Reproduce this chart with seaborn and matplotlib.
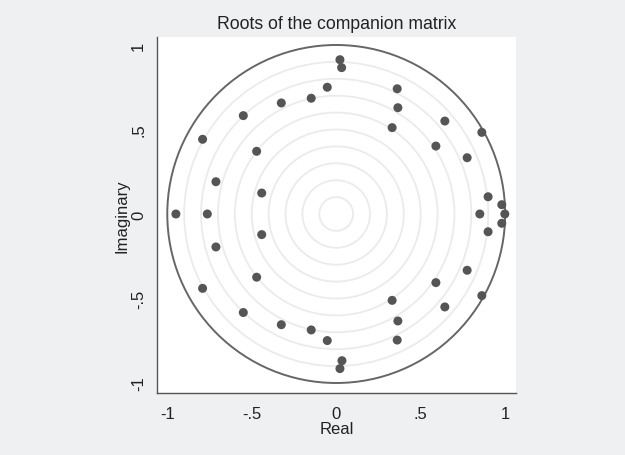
"""
Roots of the companion matrix (Stata style eigenvalue stability plot)
"""
import matplotlib
matplotlib.use("Agg")
import matplotlib.pyplot as plt
import pandas as pd
import seaborn as sns

# real and imaginary parts of the eigenvalues
real_part = [
    0.022, 0.032, -0.053, -0.148, -0.325, -0.550, -0.791, -0.471, -0.712,
    -0.441, 0.361, 0.365, 0.331, 0.643, 0.862, 0.590, 0.775, 0.899, 0.980,
    -0.949, -0.763, 0.998, 0.850,
    0.022, 0.034, -0.053, -0.148, -0.325, -0.550, -0.791, -0.471, -0.712,
    -0.441, 0.361, 0.365, 0.331, 0.643, 0.862, 0.590, 0.775, 0.899, 0.980,
]
imag_part = [
    0.913, 0.866, 0.750, 0.685, 0.657, 0.582, 0.442, 0.371, 0.191,
    0.124, 0.741, 0.629, 0.511, 0.550, 0.483, 0.402, 0.333, 0.102, 0.055,
    0.0, 0.0, 0.0, 0.0,
    -0.915, -0.868, -0.749, -0.686, -0.655, -0.583, -0.440, -0.374, -0.195,
    -0.122, -0.746, -0.633, -0.511, -0.550, -0.483, -0.406, -0.333, -0.105,
    -0.055,
]
ticks = [-1, -0.5, 0, 0.5, 1]
tick_labels = ["-1", "-.5", "0", ".5", "1"]
grid_radii = [0.1, 0.2, 0.3, 0.4, 0.5, 0.6, 0.7, 0.8, 0.9]

bg = "#eff0f2"
sns.set_style("white")
plt.rcParams["font.family"] = ["Liberation Sans", "DejaVu Sans"]

roots = pd.DataFrame({"Real": real_part, "Imaginary": imag_part})

fig = plt.figure(figsize=(6.25, 4.56), dpi=100, facecolor=bg)
ax = fig.add_axes([0.2517, 0.1353, 0.5733, 0.782])
ax.set_facecolor("white")

# light reference circles and the unit circle
for r in grid_radii:
    ax.add_patch(plt.Circle((0, 0), r, fill=False, ec="#ebebeb", lw=1.3))
ax.add_patch(plt.Circle((0, 0), 1, fill=False, ec="#666666", lw=1.4))

sns.scatterplot(
    data=roots, x="Real", y="Imaginary", ax=ax,
    color="#555555", s=42, edgecolor="none", zorder=3,
)

ax.set_xlim(-1.059, 1.062)
ax.set_ylim(-1.061, 1.049)
ax.set_xticks(ticks, tick_labels)
ax.set_yticks(ticks, tick_labels)
for lab in ax.get_yticklabels():
    lab.set_rotation(90)
    lab.set_va("center")
ax.tick_params(axis="both", direction="out", length=6, width=1,
               color="#555555", labelsize=12, labelcolor="#222222", pad=2)
ax.tick_params(axis="x", pad=3)

for side in ["top", "right"]:
    ax.spines[side].set_visible(False)
for side in ["left", "bottom"]:
    ax.spines[side].set_color("#555555")
    ax.spines[side].set_linewidth(1)

ax.set_xlabel("Real", fontsize=12, color="#222222", labelpad=0)
ax.set_ylabel("Imaginary", fontsize=12, color="#222222", labelpad=1)
ax.set_title("Roots of the companion matrix", fontsize=12.7, color="#222222",
             pad=6)

fig.savefig("out.png", dpi=100, facecolor=bg)
